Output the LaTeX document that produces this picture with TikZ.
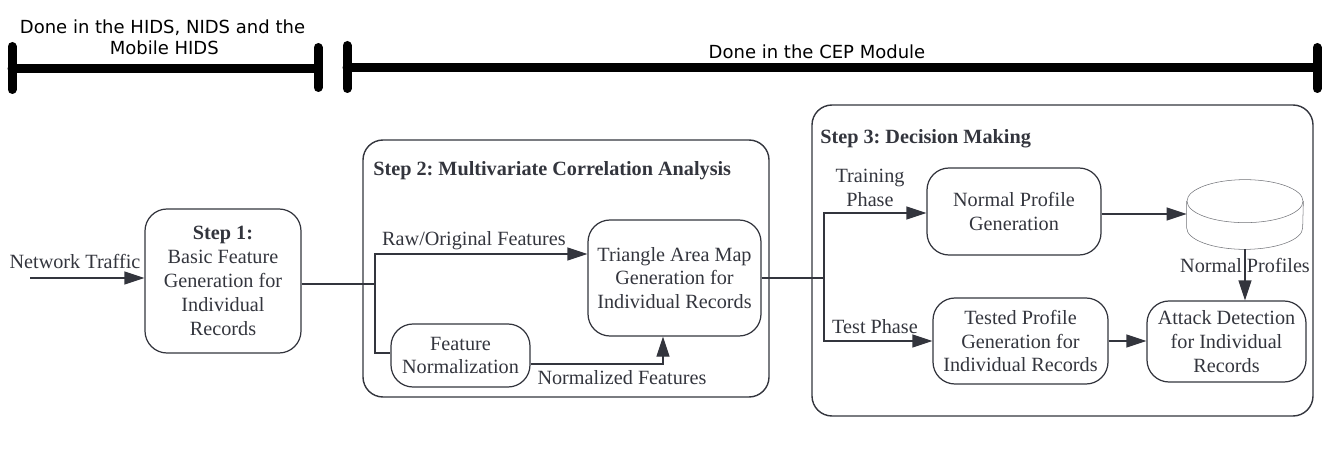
\documentclass[tikz,border=0pt]{standalone}
\usepackage{fontspec}
\setmainfont{Liberation Serif}
\newfontfamily\headfont{DejaVu Sans}
\usetikzlibrary{positioning,arrows.meta}
\definecolor{ink}{HTML}{33353D}

\begin{document}
\frenchspacing
\begin{tikzpicture}[
  every node/.style={text=ink},
  box/.style={draw=ink, rounded corners=0.44cm, line width=0.7pt, align=center,
    font=\fontsize{11.5}{13.6}\selectfont, inner sep=0pt},
  frame/.style={draw=ink, rounded corners=0.4cm, line width=0.8pt, inner sep=0pt},
  lbl/.style={align=center, font=\fontsize{11.5}{13.6}\selectfont, inner sep=0pt},
  ttl/.style={anchor=west, font=\fontsize{11.5}{13.6}\selectfont\bfseries, inner sep=0pt},
  head/.style={align=center, font=\headfont\fontsize{10.25}{12}\selectfont, text=black, inner sep=0pt},
  arr/.style={-{Triangle[length=0.4cm, width=0.26cm]}, draw=ink, line width=0.7pt},
  lin/.style={draw=ink, line width=0.7pt},
  bar/.style={line width=0.18cm, line cap=round, draw=black},
  cyl/.style={draw=ink!70, line width=0.3pt}
]
  \useasboundingbox (0,0) rectangle (26.58,9.26);

  % brackets on top
  \coordinate (lefttop) at (0.24,8.33);
  \coordinate (leftbot) at (0.24,7.47);
  \coordinate (leftmid) at (0.24,7.88);
  \coordinate (lefttop2) at (6.36,8.31);
  \coordinate (leftbot2) at (6.36,7.51);
  \coordinate (leftmid2) at (6.36,7.88);
  \coordinate (righttop) at (6.94,8.35);
  \coordinate (rightbot) at (6.94,7.49);
  \coordinate (rightmid) at (6.94,7.9);
  \coordinate (righttop2) at (26.34,8.31);
  \coordinate (rightbot2) at (26.34,7.49);
  \coordinate (rightmid2) at (26.34,7.9);
  \draw[bar] (lefttop) -- (leftbot);
  \draw[bar] (lefttop2) -- (leftbot2);
  \draw[bar] (leftmid) -- (leftmid2);
  \draw[bar] (righttop) -- (rightbot);
  \draw[bar] (righttop2) -- (rightbot2);
  \draw[bar] (rightmid) -- (rightmid2);
  \node[head] (donehids) at (3.25,8.52) {Done in the HIDS, NIDS and the\\\hspace{2pt}Mobile HIDS};
  \node[head] (donecep) at (16.34,8.22) {Done in the CEP Module};

  % the two big frames
  \node[frame, minimum width=8.12cm, minimum height=5.14cm] (steptwo) at (11.32,3.89) {};
  \node[frame, minimum width=10.02cm, minimum height=6.22cm] (stepthree) at (21.25,4.05) {};
  \node[ttl] (titletwo) at (7.46,5.84) {Step 2: Multivariate Correlation Analysis};
  \node[ttl] (titlethree) at (16.4,6.48) {Step 3: Decision Making};

  % boxes
  \node[box, minimum width=3.12cm, minimum height=2.88cm] (stepone) at (4.46,3.64)
    {\textbf{Step 1:}\\Basic Feature\\Generation for\\Individual\\Records};
  \node[box, minimum width=3.46cm, minimum height=2.32cm] (triangle) at (13.49,3.7)
    {Triangle Area Map\\Generation for\\Individual Records};
  \node[box, minimum width=2.78cm, minimum height=1.26cm] (featnorm) at (9.21,2.15)
    {Feature\\Normalization};
  \node[box, minimum width=3.48cm, minimum height=1.74cm] (normalgen) at (20.28,5.03)
    {Normal Profile\\Generation};
  \node[box, minimum width=3.5cm, minimum height=1.72cm] (tested) at (20.41,2.44)
    {Tested Profile\\Generation for\\Individual Records};
  \node[box, minimum width=3.18cm, minimum height=1.62cm] (attack) at (24.53,2.43)
    {Attack Detection\\for Individual\\Records};

  % database drum
  \node[minimum width=2.32cm, minimum height=1.38cm, inner sep=0pt] (store) at (24.9,4.97) {};
  \draw[cyl] ([yshift=-0.43cm]store.north) ellipse [x radius=1.16cm, y radius=0.43cm];
  \draw[cyl] ([yshift=-0.43cm]store.north west) -- ([yshift=0.43cm]store.south west)
    arc [start angle=180, end angle=360, x radius=1.16cm, y radius=0.43cm]
    -- ([yshift=-0.43cm]store.north east);

  % labels
  \node[lbl] (traffic) at (1.5,4.04) {Network Traffic};
  \node[lbl] (rawlbl) at (9.48,4.44) {Raw/Original Features};
  \node[lbl] (normlbl) at (12.44,1.7) {Normalized Features};
  \node[lbl] (trainlbl) at (17.4,5.5) {Training\\Phase};
  \node[lbl] (testlbl) at (17.5,2.72) {Test Phase};
  \node[lbl] (proflbl) at (24.9,3.96) {Normal Profiles};

  % junctions
  \coordinate (trafficstart) at (0.6,3.7);
  \coordinate (splitone) at (7.5,3.58);
  \coordinate (splittwo) at (16.48,3.7);

  % connectors
  \draw[arr] (trafficstart) -- (trafficstart -| stepone.west);
  \draw[lin] (stepone.east |- splitone) -- (splitone);
  \draw[arr] (splitone) |- (triangle.west |- 0,4.18);
  \draw[lin] (splitone) |- (featnorm.west |- 0,2.2);
  \draw[arr] (featnorm.east |- 0,1.98) -| (13.26,0 |- triangle.south);
  \draw[lin] (triangle.east) -- (splittwo);
  \draw[arr] (splittwo) |- (normalgen.west |- 0,5);
  \draw[arr] (splittwo) |- (tested.west);
  \draw[arr] (normalgen.east |- 0,4.98) -- (store.west |- 0,4.98);
  \draw[arr] (tested.east) -- (attack.west |- tested.east);
  \draw[arr] (store.south) -- (store.south |- attack.north);
\end{tikzpicture}
\end{document}
